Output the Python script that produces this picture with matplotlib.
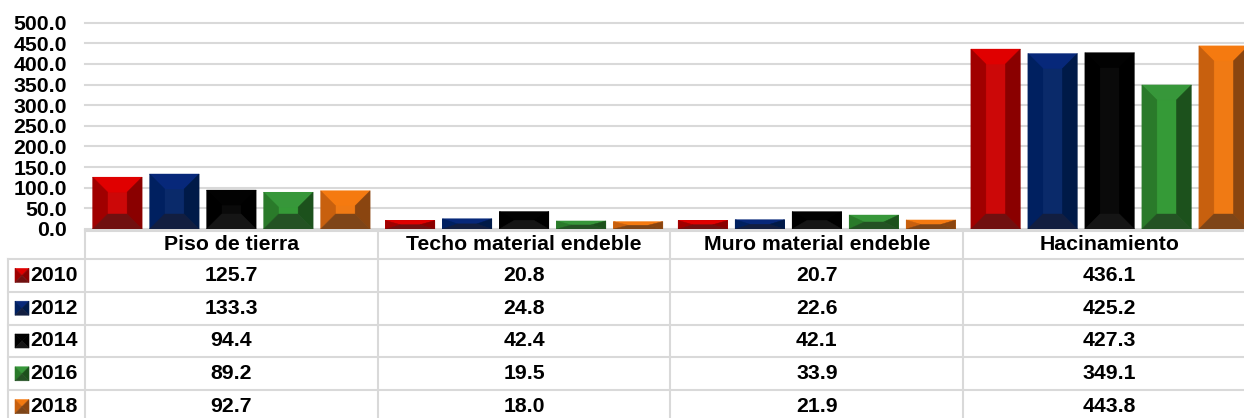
import matplotlib
matplotlib.use("Agg")
import matplotlib.pyplot as plt
from matplotlib.patches import Polygon

plt.rcParams["font.family"] = ["Liberation Sans", "DejaVu Sans"]
plt.rcParams["font.weight"] = "bold"

# data
categories = ["Piso de tierra", "Techo material endeble", "Muro material endeble", "Hacinamiento"]
years = ["2010", "2012", "2014", "2016", "2018"]
v2010 = [125.7, 20.8, 20.7, 436.1]
v2012 = [133.3, 24.8, 22.6, 425.2]
v2014 = [94.4, 42.4, 42.1, 427.3]
v2016 = [89.2, 19.5, 33.9, 349.1]
v2018 = [92.7, 18.0, 21.9, 443.8]
series = [v2010, v2012, v2014, v2016, v2018]
yticks = [0, 50, 100, 150, 200, 250, 300, 350, 400, 450, 500]

# colours: center, top, left, right, bottom
shades = [
    ("#cc0808", "#e00000", "#a00000", "#8a0000", "#701010"),
    ("#0a2a6a", "#07287a", "#002060", "#001a48", "#121e40"),
    ("#0a0a0a", "#020202", "#000000", "#000000", "#151515"),
    ("#359a37", "#37973a", "#2a7a2a", "#1c511c", "#245224"),
    ("#f07a14", "#f57a10", "#c8600e", "#8a4510", "#7e4518"),
]
grid_c = "#d9d9d9"
fs = 15.3

W, H = 1244, 418
fig = plt.figure(figsize=(W / 100, H / 100), dpi=100)

x_left, x_right = 85, 1256
y0_px, y500_px = 229, 22.7
ax = fig.add_axes([x_left / W, (H - y0_px) / H, (x_right - x_left) / W, (y0_px - y500_px) / H])
ax.set_xlim(-0.5, len(categories) - 0.5)
ax.set_ylim(0, 500)
for s in ax.spines.values():
    s.set_visible(False)
ax.set_yticks(yticks)
ax.set_yticklabels([f"{t:.1f}" for t in yticks], fontsize=fs, fontweight="bold")
ax.tick_params(axis="y", length=0, pad=13)
ax.set_xticks([])
ax.yaxis.grid(True, color=grid_c, lw=1.5)
ax.set_axisbelow(True)
for gl in ax.get_ygridlines():
    gl.set_clip_on(False)

# pixel scales for the bevel
cat_px = (x_right - x_left) / len(categories)
unit_y_px = (y0_px - y500_px) / 500
pitch = 57 / cat_px
bw = 49.5 / cat_px
bev = 15

for j, vals in enumerate(series):
    c, ctop, cl, cr, cb = shades[j]
    xs = [i + (j - 2) * pitch for i in range(len(categories))]
    bars = ax.bar(xs, vals, width=bw, color=c, edgecolor="none", zorder=2)
    for b in bars:
        x0, y0 = b.get_x(), 0
        x1, y1 = x0 + b.get_width(), b.get_height()
        bx = min(bev, b.get_width() * cat_px / 2) / cat_px
        by = min(bev, y1 * unit_y_px / 2) / unit_y_px
        polys = [
            ([(x0, y1), (x1, y1), (x1 - bx, y1 - by), (x0 + bx, y1 - by)], ctop),
            ([(x0, y0), (x0, y1), (x0 + bx, y1 - by), (x0 + bx, y0 + by)], cl),
            ([(x1, y0), (x1, y1), (x1 - bx, y1 - by), (x1 - bx, y0 + by)], cr),
            ([(x0, y0), (x1, y0), (x1 - bx, y0 + by), (x0 + bx, y0 + by)], cb),
        ]
        for pts, col in polys:
            ax.add_patch(Polygon(pts, closed=True, facecolor=col, edgecolor=col, lw=0.3, zorder=3))

# data table below the chart, drawn in pixel units
tax = fig.add_axes([0, 0, x_right / W, (H - 230) / H])
tax.set_xlim(0, x_right)
tax.set_ylim(H, 230)
tax.axis("off")

row_top = 259
row_h = 32.8
col_edges = [x_left + k * cat_px for k in range(len(categories) + 1)]
lw = 1.5
# horizontal lines
tax.plot([x_left, x_right], [230.5, 230.5], color=grid_c, lw=lw, clip_on=False)
for r in range(len(years) + 1):
    yy = row_top + r * row_h
    tax.plot([8, x_right], [yy, yy], color=grid_c, lw=lw, clip_on=False)
# vertical lines
tax.plot([8, 8], [row_top, H + 10], color=grid_c, lw=lw, clip_on=False)
for xe in col_edges:
    tax.plot([xe, xe], [230, H + 10], color=grid_c, lw=lw, clip_on=False)

for k, cat in enumerate(categories):
    xc = (col_edges[k] + col_edges[k + 1]) / 2
    tax.text(xc, 245, cat, ha="center", va="center", fontsize=fs, fontweight="bold")

for r, (yr, vals) in enumerate(zip(years, series)):
    yc = row_top + (r + 0.5) * row_h
    c, ctop, cl, cr, cb = shades[r]
    # small bevelled legend key
    mx0, mx1 = 15, 29
    my0, my1 = yc - 7, yc + 7
    mc = ((mx0 + mx1) / 2, yc)
    for pts, col in [
        ([(mx0, my0), (mx1, my0), mc], ctop),
        ([(mx0, my0), (mx0, my1), mc], cl),
        ([(mx1, my0), (mx1, my1), mc], cr),
        ([(mx0, my1), (mx1, my1), mc], cb),
    ]:
        tax.add_patch(Polygon(pts, closed=True, facecolor=col, edgecolor=col, lw=0.4))
    tax.text(30.5, yc, yr, ha="left", va="center", fontsize=fs, fontweight="bold")
    for k, v in enumerate(vals):
        xc = (col_edges[k] + col_edges[k + 1]) / 2
        tax.text(xc, yc, f"{v:.1f}", ha="center", va="center", fontsize=fs, fontweight="bold")

fig.savefig("out.png", dpi=100, facecolor="white")
